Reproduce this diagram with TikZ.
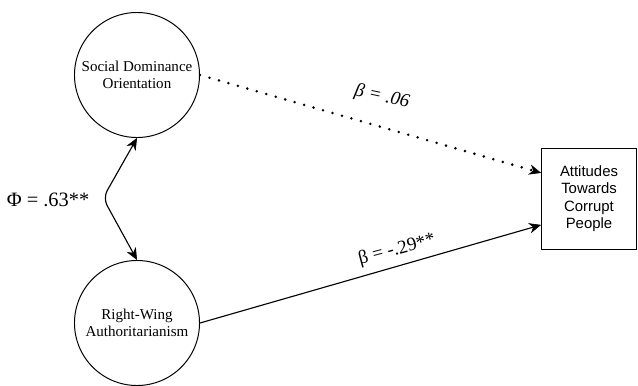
\documentclass[tikz,border=0pt]{standalone}
\usepackage{fontspec}
\setmainfont{Liberation Serif}
\newfontfamily\boxfont{Liberation Sans}
\usetikzlibrary{arrows.meta, positioning, calc}
\tikzset{
    latentnode/.style={circle, draw, line width=0.7pt, minimum size=3.125cm, inner sep=1pt, align=center, font=\fontsize{10.7}{12}\selectfont},
    obsnode/.style={rectangle, draw, line width=0.6pt, minimum width=2.375cm, minimum height=2.525cm, inner sep=1pt, align=center, font=\boxfont\fontsize{10.6}{12.4}\selectfont},
    pathlabel/.style={inner sep=1pt, font=\fontsize{13.5}{15}\selectfont},
    dotline/.style={line width=2pt, line cap=round, dash pattern=on 0pt off 7pt}
}

\begin{document}
\begin{tikzpicture}[x=0.025cm, y=-0.025cm, >={Stealth[length=3mm, width=2.6mm, line width=0.4pt]}, line width=0.8pt]
  \useasboundingbox (0,0) rectangle (638,386);
  \node[latentnode] (n0) at (137,75) {Social Dominance\\Orientation};
  \node[latentnode] (n1) at (137,323) {Right-Wing\\Authoritarianism};
  \node[obsnode] (n2) at (589,198.5) {Attitudes\\Towards\\Corrupt\\People};
  \coordinate (c0) at (103,198);
  \node[pathlabel, font=\fontsize{14.5}{16}\selectfont] (l0) at (48,200) {Φ = .63**};
  \node[pathlabel, rotate=-12] (l1) at (382,97) {\itshape β = .06};
  \node[pathlabel, rotate=15] (l2) at (397,250) {β = -.29**};
  \draw[<->, rounded corners=6pt] (n0.south) -- (c0) -- (n1.north);
  \draw[->, dotline] (n0.east) -- ([yshift=0.64cm]n2.west);
  \draw[->] (n1.east) -- ([yshift=-0.66cm]n2.west);
\end{tikzpicture}
\end{document}
